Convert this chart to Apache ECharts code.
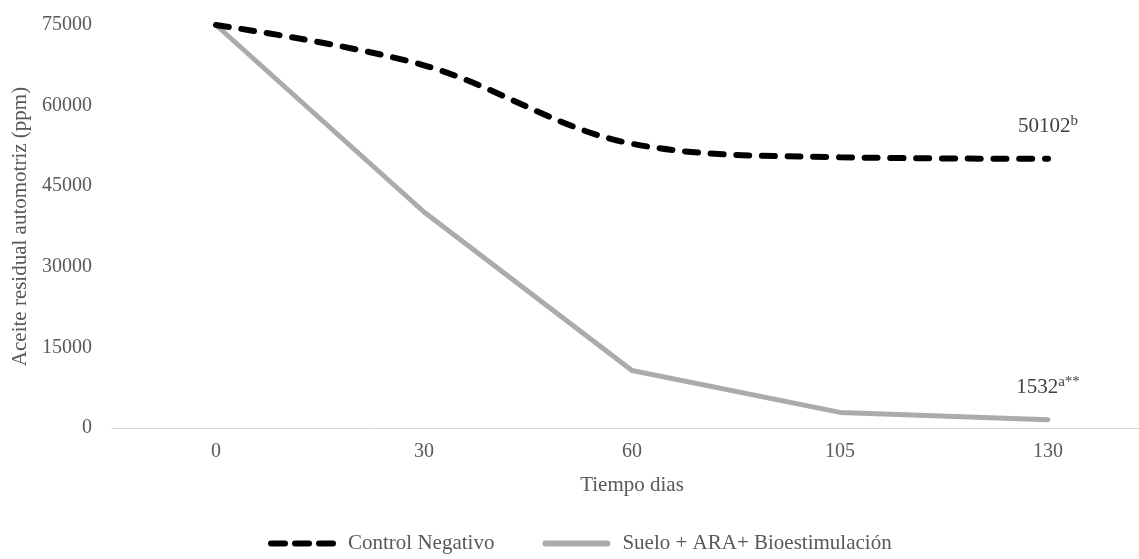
<!DOCTYPE html>
<html><head><meta charset="utf-8">
<script src="https://cdn.jsdelivr.net/npm/echarts@6/dist/echarts.min.js"></script>
<style>html,body{margin:0;padding:0;background:#fff}#c{width:1139px;height:559px}</style>
</head><body><div id="c"></div>
<script>
const categories = ['0', '30', '60', '105', '130'];
const controlNegativo = [75000, 67500, 52900, 50400, 50102];
const sueloARA = [75000, 40200, 10700, 2900, 1532];
const yTicks = [0, 15000, 30000, 45000, 60000, 75000];
const controlLabel = ['50102', 'b'];
const sueloLabel = ['1532', 'a**'];

const font = '"Liberation Serif", "Times New Roman", serif';
const chart = echarts.init(document.getElementById('c'));

function endLabel(parts) {
  return {
    show: true,
    position: 'top',
    distance: 21,
    formatter: p => p.dataIndex === categories.length - 1 ? '{v|' + parts[0] + '}{s|' + parts[1] + '}' : '',
    rich: {
      v: { fontFamily: font, fontSize: 21, color: '#404040', lineHeight: 24, verticalAlign: 'bottom' },
      s: { fontFamily: font, fontSize: 15, color: '#404040', lineHeight: 15, verticalAlign: 'top' }
    }
  };
}

const dashIcon = 'path://M3,0H17A3,3 0 0 1 17,6H3A3,3 0 0 1 3,0Z M27,0H41A3,3 0 0 1 41,6H27A3,3 0 0 1 27,0Z M51,0H65A3,3 0 0 1 65,6H51A3,3 0 0 1 51,0Z';
const barIcon = 'path://M3,0H67A3,3 0 0 1 67,6H3A3,3 0 0 1 3,0Z';

chart.setOption({
  animation: false,
  textStyle: { fontFamily: font },
  grid: { left: 112, width: 1040, top: 25, bottom: 131, containLabel: false, outerBoundsMode: 'none' },
  legend: {
    bottom: 0,
    left: 263,
    itemWidth: 68,
    itemHeight: 6,
    itemGap: 48,
    textStyle: { fontFamily: font, fontSize: 21, color: '#595959', padding: [0, 0, 0, 7] },
    data: [
      { name: 'Control Negativo', icon: dashIcon, itemStyle: { color: '#000' } },
      { name: 'Suelo + ARA+ Bioestimulación', icon: barIcon, itemStyle: { color: '#aeaaaa' } }
    ]
  },
  xAxis: {
    type: 'category',
    data: categories,
    boundaryGap: true,
    name: 'Tiempo dias',
    nameLocation: 'middle',
    nameGap: 47,
    nameTextStyle: { fontFamily: font, fontSize: 21, color: '#595959' },
    axisLine: { lineStyle: { color: '#d9d9d9', width: 1 } },
    axisTick: { show: false },
    axisLabel: { fontFamily: font, fontSize: 20, color: '#595959', margin: 14 },
    splitLine: { show: false }
  },
  yAxis: {
    type: 'value',
    min: yTicks[0],
    max: yTicks[yTicks.length - 1],
    interval: 15000,
    name: 'Aceite residual automotriz (ppm)',
    nameLocation: 'middle',
    nameGap: 79,
    nameTextStyle: { fontFamily: font, fontSize: 21, color: '#595959' },
    axisLine: { show: false },
    axisTick: { show: false },
    axisLabel: { fontFamily: font, fontSize: 20, color: '#595959', margin: 20, formatter: v => String(v) },
    splitLine: { show: false }
  },
  series: [
    {
      name: 'Control Negativo',
      type: 'line',
      data: controlNegativo,
      smooth: 0.35,
      symbol: 'circle',
      symbolSize: 1,
      showSymbol: true,
      itemStyle: { color: 'rgba(0,0,0,0)' },
      lineStyle: { color: '#000', width: 6, type: [13, 12.7], cap: 'round' },
      label: endLabel(controlLabel),
      z: 3
    },
    {
      name: 'Suelo + ARA+ Bioestimulación',
      type: 'line',
      data: sueloARA,
      smooth: false,
      symbol: 'circle',
      symbolSize: 1,
      showSymbol: true,
      itemStyle: { color: 'rgba(0,0,0,0)' },
      lineStyle: { color: '#aeaaaa', width: 5, cap: 'round', join: 'round' },
      label: endLabel(sueloLabel),
      z: 2
    }
  ]
});
</script>
</body></html>
